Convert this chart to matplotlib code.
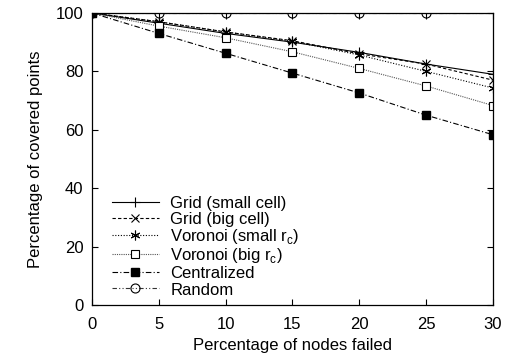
import matplotlib
matplotlib.use('Agg')
import matplotlib.pyplot as plt

plt.rcParams['font.family'] = ['Liberation Sans', 'DejaVu Sans']
plt.rcParams['font.size'] = 12
plt.rcParams['mathtext.fontset'] = 'custom'
plt.rcParams['mathtext.rm'] = 'Liberation Sans'

# data
x = [0, 5, 10, 15, 20, 25, 30]
grid_small = [100, 96.5, 93, 90, 86.5, 82.5, 79]
grid_big = [100, 97, 93.5, 90.5, 86, 82.5, 77]
vor_small = [100, 97, 93.5, 90.3, 85.6, 80, 74.3]
vor_big = [100, 95.5, 91.5, 86.7, 81, 75, 68.3]
central = [100, 93, 86.2, 79.4, 72.6, 65, 58.3]
rand_x = [0, 5, 10, 15, 20, 25]
rand = [100, 100, 100, 100, 100, 100]

fig = plt.figure(figsize=(5.05, 3.6), dpi=100)
ax = fig.add_axes([0.182, 0.153, 0.794, 0.811])

lw = 0.8
ax.plot(x, grid_small, color='black', lw=lw, ls='-', marker='+', ms=7, mew=0.8,
        label='Grid (small cell)')
ax.plot(x, grid_big, color='black', lw=lw, ls=(0, (3, 2)), marker='x', ms=6, mew=0.8,
        label='Grid (big cell)')
ax.plot(x, vor_small, color='black', lw=lw, ls=(0, (1, 1.5)), marker=(6, 2, 0), ms=7, mew=0.8,
        label=r'Voronoi (small r$_\mathregular{c}$)')
ax.plot(x, vor_big, color='#555555', lw=lw, ls=(0, (1, 1)), marker='s', ms=6, mew=0.8,
        mfc='white', mec='black', label=r'Voronoi (big r$_\mathregular{c}$)')
ax.plot(x, central, color='black', lw=lw, ls=(0, (5, 2, 1, 2)), marker='s', ms=6,
        mfc='black', mec='black', label='Centralized')
ax.plot(rand_x + [30], rand + [100], color='#333333', lw=lw, ls=(0, (4, 2, 1, 2, 1, 2)),
        markevery=list(range(len(rand_x))), marker='o', ms=6.5, mfc='none', mec='black', mew=0.8,
        label='Random')

ax.set_xlim(0, 30)
ax.set_ylim(0, 100)
ax.set_xticks(x)
ax.set_yticks([0, 20, 40, 60, 80, 100])
ax.tick_params(direction='in', top=True, right=True, length=4, width=0.8, pad=6)
ax.tick_params(axis='x', pad=9)
ax.set_xlabel('Percentage of nodes failed', labelpad=4)
ax.set_ylabel('Percentage of covered points', labelpad=9)
for s in ax.spines.values():
    s.set_linewidth(0.9)

ax.legend(loc='lower left', bbox_to_anchor=(0.05, 0.025), frameon=False,
          handlelength=2.8, labelspacing=0.0, handletextpad=0.7, borderpad=0,
          borderaxespad=0, handleheight=1.0)

fig.savefig('out.png', dpi=100)
